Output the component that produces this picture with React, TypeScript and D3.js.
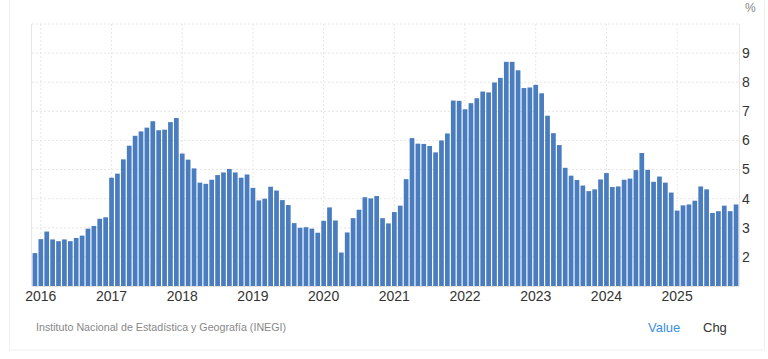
import React from "react";
import * as d3 from "d3";

// Monthly values, Dec 2015 .. Nov 2025 (%)
const startYear = 2015;
const startMonth = 11; // December (0-based)
const values2015 = [2.13];
const values2016 = [2.61, 2.87, 2.6, 2.54, 2.6, 2.54, 2.65, 2.73, 2.97, 3.06, 3.31, 3.36];
const values2017 = [4.72, 4.86, 5.35, 5.82, 6.16, 6.31, 6.44, 6.66, 6.35, 6.37, 6.63, 6.77];
const values2018 = [5.55, 5.34, 5.04, 4.55, 4.51, 4.65, 4.81, 4.9, 5.02, 4.9, 4.72, 4.83];
const values2019 = [4.37, 3.94, 4.0, 4.41, 4.28, 3.95, 3.78, 3.16, 3.0, 3.02, 2.97, 2.83];
const values2020 = [3.24, 3.7, 3.25, 2.15, 2.84, 3.33, 3.62, 4.05, 4.01, 4.09, 3.33, 3.15];
const values2021 = [3.54, 3.76, 4.67, 6.08, 5.89, 5.88, 5.81, 5.59, 6.0, 6.24, 7.37, 7.36];
const values2022 = [7.07, 7.28, 7.45, 7.68, 7.65, 7.99, 8.15, 8.7, 8.7, 8.41, 7.8, 7.82];
const values2023 = [7.91, 7.62, 6.85, 6.25, 5.84, 5.06, 4.79, 4.64, 4.45, 4.26, 4.32, 4.66];
const values2024 = [4.88, 4.4, 4.42, 4.65, 4.69, 4.98, 5.57, 4.99, 4.58, 4.76, 4.55, 4.21];
const values2025 = [3.59, 3.77, 3.8, 3.93, 4.42, 4.32, 3.51, 3.57, 3.76, 3.57, 3.8];

const yearTicks = [2016, 2017, 2018, 2019, 2020, 2021, 2022, 2023, 2024, 2025];
const yTicks = [2, 3, 4, 5, 6, 7, 8, 9];
const yGrid = [2, 3, 4, 5, 6, 7, 8, 9, 10];

const allValues = [
  ...values2015, ...values2016, ...values2017, ...values2018, ...values2019,
  ...values2020, ...values2021, ...values2022, ...values2023, ...values2024, ...values2025,
];

const data = allValues.map((v, i) => {
  const m = startMonth + i;
  return { key: `${startYear + Math.floor(m / 12)}-${m % 12}`, year: startYear + Math.floor(m / 12), month: m % 12, value: v };
});

const W = 768;
const H = 359;
const left = 32;
const right = 739;
const top = 24;
const bottom = 286;

export default function App() {
  const x = d3.scaleBand<string>().domain(data.map((d) => d.key)).range([left, right]).paddingInner(0.2).paddingOuter(0.1);
  const y = d3.scaleLinear().domain([1, 10]).range([bottom, top]);
  const font = "'Liberation Sans', Arial, sans-serif";
  const cx = (yr: number) => (x(`${yr}-0`) as number) + x.bandwidth() / 2;

  return (
    <svg width={W} height={H} style={{ position: "absolute", left: 0, top: 0, background: "#fff" }} fontFamily={font}>
      <rect x={9.5} y={-2} width={755} height={352} fill="none" stroke="#efefef" />
      {yGrid.map((t) => (
        <line key={"h" + t} x1={left} x2={right} y1={y(t)} y2={y(t)} stroke="#e6e6e6" strokeDasharray="2,2" />
      ))}
      {yearTicks.map((yr) => (
        <line key={"v" + yr} x1={cx(yr)} x2={cx(yr)} y1={top} y2={bottom} stroke="#e6e6e6" strokeDasharray="2,2" />
      ))}
      <line x1={left - 0.5} x2={left - 0.5} y1={top} y2={bottom} stroke="#e6e6e6" />
      <line x1={right + 0.5} x2={right + 0.5} y1={top} y2={bottom} stroke="#e6e6e6" />
      {data.map((d) => (
        <rect
          key={d.key}
          x={x(d.key)}
          y={y(d.value)}
          width={x.bandwidth()}
          height={y(1) - y(d.value)}
          fill="#4a7dc0"
        />
      ))}
      <line x1={left} x2={right} y1={bottom + 0.5} y2={bottom + 0.5} stroke="#e3e3e3" />
      {yearTicks.map((yr) => (
        <text key={"xl" + yr} x={cx(yr)} y={301} textAnchor="middle" fontSize={14} fill="#333">
          {yr}
        </text>
      ))}
      {yTicks.map((t) => (
        <text key={"yl" + t} x={742} y={y(t)} dy="0.35em" fontSize={14} fill="#333">
          {t}
        </text>
      ))}
      <text x={745} y={12} fontSize={12} fill="#888">%</text>
      <text x={36} y={331} fontSize={10.7} fill="#888">
        Instituto Nacional de Estadística y Geografía (INEGI)
      </text>
      <text x={648} y={332} fontSize={13} fill="#3a8ee6">Value</text>
      <text x={703} y={332} fontSize={13} fill="#333">Chg</text>
    </svg>
  );
}
